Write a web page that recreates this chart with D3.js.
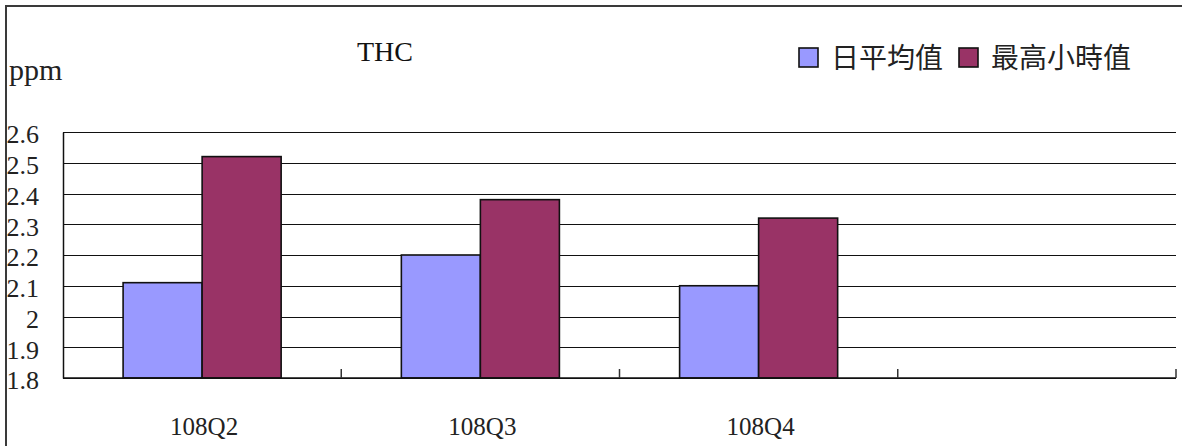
<!DOCTYPE html>
<html>
<head>
<meta charset="utf-8">
<script src="https://cdn.jsdelivr.net/npm/d3@7"></script>
<style>
  html, body { margin: 0; padding: 0; background: #fff; }
  svg { display: block; }
</style>
</head>
<body>
<svg id="chart" width="1192" height="446"></svg>
<script>
// THC quarterly concentrations (ppm)
const categories = ["108Q2", "108Q3", "108Q4", ""];
const seriesNames = ["日平均值", "最高小時值"];
const dailyAvg = [2.11, 2.20, 2.10];
const maxHourly = [2.52, 2.38, 2.32];
const yTickValues = [1.8, 1.9, 2.0, 2.1, 2.2, 2.3, 2.4, 2.5, 2.6];
const colors = ["#9999FF", "#993366"];

const svg = d3.select("#chart");
const serif = "'Liberation Serif', 'DejaVu Serif', serif";
const cjk = "'Noto Sans CJK TC', 'Noto Sans CJK SC', sans-serif";

const plot = { left: 63, right: 1176, top: 132, bottom: 378 };

// outer frame (left and top edges)
svg.append("path")
  .attr("d", "M6,446 V6 H1182")
  .attr("fill", "none")
  .attr("stroke", "#3a3a3a")
  .attr("stroke-width", 2);

const x = d3.scaleBand()
  .domain(categories)
  .range([plot.left, plot.right])
  .paddingInner(0)
  .paddingOuter(0);

const groupFrac = 0.568;
const x1 = d3.scaleBand()
  .domain(seriesNames)
  .range([x.bandwidth() * (1 - groupFrac) / 2, x.bandwidth() * (1 + groupFrac) / 2]);

const y = d3.scaleLinear()
  .domain([1.8, 2.6])
  .range([plot.bottom, plot.top]);

// horizontal gridlines
const grid = svg.append("g")
  .attr("transform", `translate(${plot.left},0)`)
  .call(d3.axisLeft(y).tickValues(yTickValues).tickSize(-(plot.right - plot.left)).tickFormat(""));
grid.select(".domain").remove();
grid.selectAll("line")
  .attr("stroke", "#111")
  .attr("stroke-width", 1)
  .attr("shape-rendering", "crispEdges");

// y axis labels
const yAxis = svg.append("g")
  .attr("transform", `translate(${plot.left},0)`)
  .attr("font-family", serif)
  .call(d3.axisLeft(y).tickValues(yTickValues).tickSize(0).tickPadding(24)
    .tickFormat(d => String(+d.toFixed(1))));
yAxis.attr("font-family", serif).attr("font-size", 26);
yAxis.select(".domain")
  .attr("stroke", "#111")
  .attr("stroke-width", 1.5);
yAxis.selectAll("text")
  .attr("font-family", serif)
  .attr("font-size", 26)
  .attr("fill", "#222")
  .attr("dy", "0.42em");

// bars
const rows = categories.slice(0, dailyAvg.length).map((c, i) => ({
  cat: c,
  values: [dailyAvg[i], maxHourly[i]]
}));
const groups = svg.append("g").selectAll("g")
  .data(rows)
  .join("g")
  .attr("transform", d => `translate(${x(d.cat)},0)`);
groups.selectAll("rect")
  .data(d => d.values.map((v, k) => ({ name: seriesNames[k], v, k })))
  .join("rect")
  .attr("x", d => x1(d.name))
  .attr("width", x1.bandwidth())
  .attr("y", d => y(d.v))
  .attr("height", d => y(1.8) - y(d.v))
  .attr("fill", d => colors[d.k])
  .attr("stroke", "#111")
  .attr("stroke-width", 1.6);

// x axis baseline and tick marks at category boundaries
svg.append("line")
  .attr("x1", plot.left).attr("x2", plot.right)
  .attr("y1", y(1.8)).attr("y2", y(1.8))
  .attr("stroke", "#111")
  .attr("stroke-width", 1.5);
const boundaries = categories.map(c => x(c)).concat([plot.right]);
svg.append("g").selectAll("line")
  .data(boundaries.slice(1))
  .join("line")
  .attr("x1", d => d).attr("x2", d => d)
  .attr("y1", y(1.8)).attr("y2", y(1.8) - 9)
  .attr("stroke", "#333")
  .attr("stroke-width", 1.5);

// x labels
svg.append("g").selectAll("text")
  .data(categories)
  .join("text")
  .attr("x", d => x(d) + x.bandwidth() / 2 + 2)
  .attr("y", 435)
  .attr("text-anchor", "middle")
  .attr("font-family", serif)
  .attr("font-size", 25)
  .attr("fill", "#222")
  .text(d => d);

// title and unit
svg.append("text")
  .attr("x", 385).attr("y", 61)
  .attr("text-anchor", "middle")
  .attr("font-family", serif)
  .attr("font-size", 28)
  .attr("fill", "#111")
  .text("THC");
svg.append("text")
  .attr("x", 9).attr("y", 80)
  .attr("font-family", serif)
  .attr("font-size", 30)
  .attr("fill", "#222")
  .text("ppm");

// legend
const legendX = [799, 959];
const legend = svg.append("g").selectAll("g")
  .data(seriesNames)
  .join("g")
  .attr("transform", (d, i) => `translate(${legendX[i]},48)`);
legend.append("rect")
  .attr("width", 19).attr("height", 19)
  .attr("fill", (d, i) => colors[i])
  .attr("stroke", "#111")
  .attr("stroke-width", 1.6);
legend.append("text")
  .attr("x", 32).attr("y", 10)
  .attr("dy", "0.36em")
  .attr("font-family", cjk)
  .attr("font-size", 28)
  .attr("fill", "#222")
  .text(d => d);
</script>
</body>
</html>
